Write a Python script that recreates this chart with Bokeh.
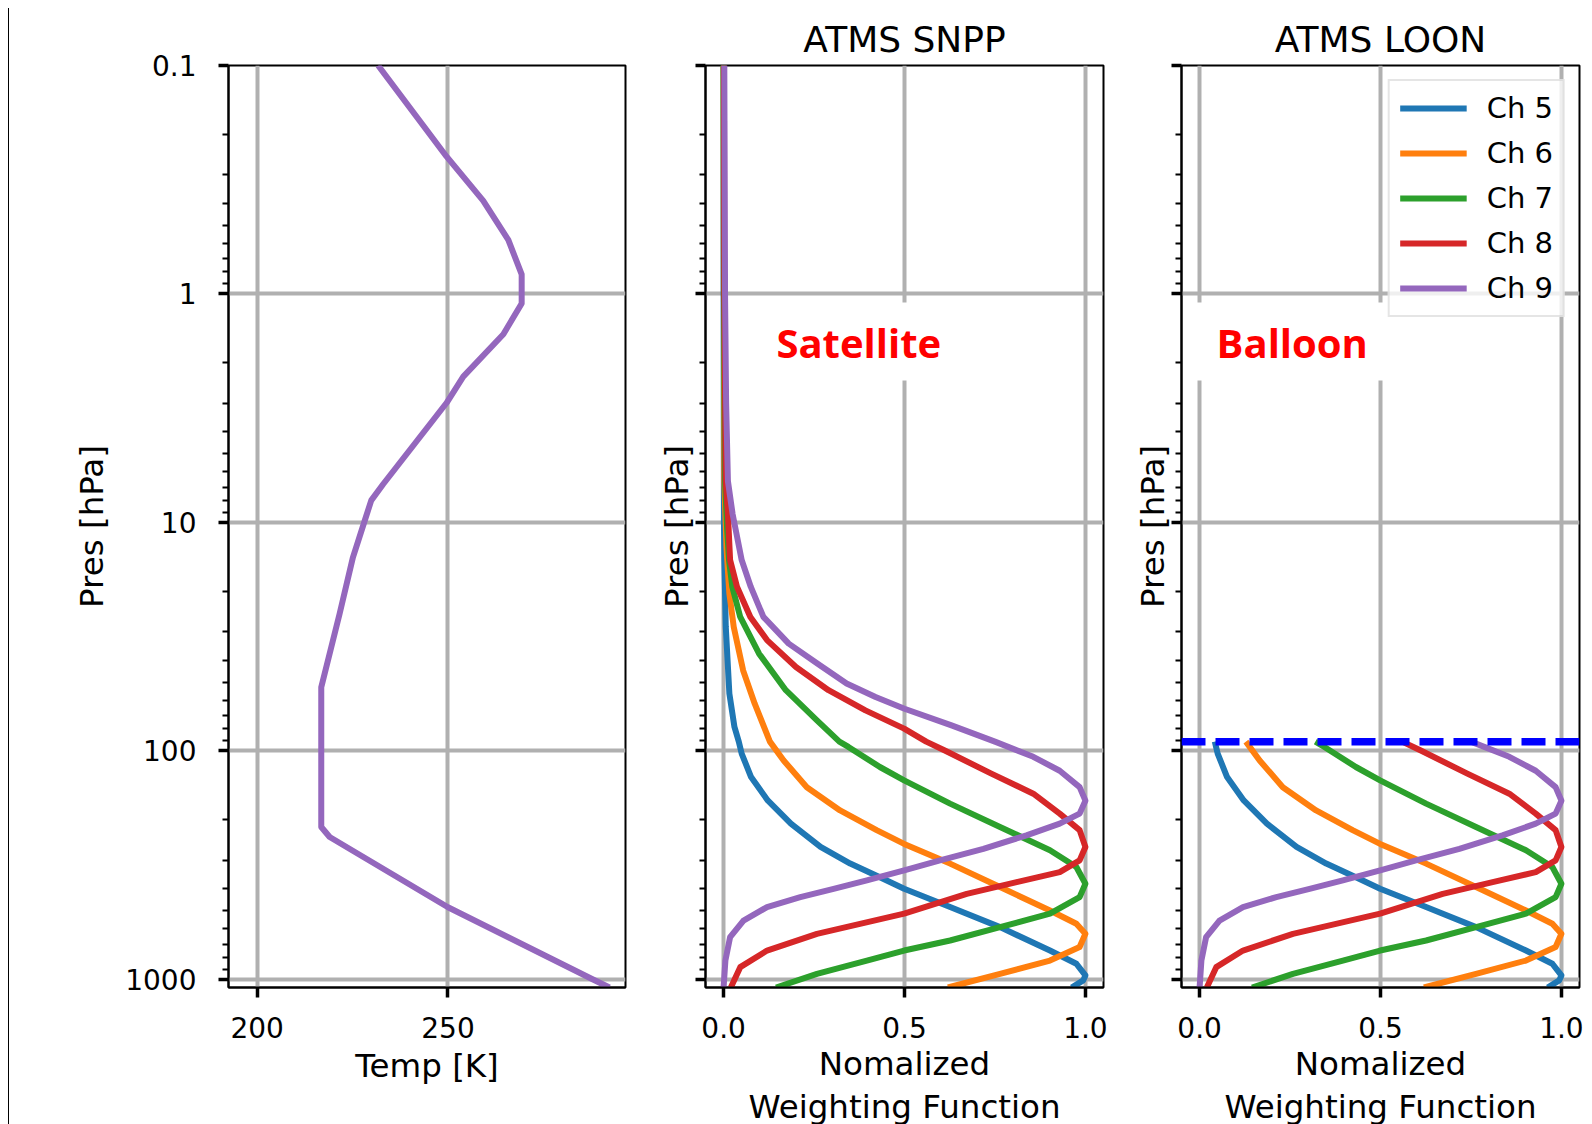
import numpy as np
from bokeh.plotting import figure
from bokeh.models import Range1d, FixedTicker, Legend, LegendItem, Span, Label
from bokeh.layouts import row
from bokeh.embed import file_html
from bokeh.resources import INLINE

# ---------------- data ----------------
temp_p = [0.1, 0.25, 0.39, 0.58, 0.82, 1.1, 1.5, 2.3, 3.0, 6.8, 8.0, 9.8, 14.2,
          25.1, 52.6, 215, 238, 483, 1000, 1084]
temp_T = [231.7, 249.6, 259.2, 265.8, 269.3, 269.3, 264.5, 254.0, 249.6, 233.0,
          229.9, 228.2, 225.1, 221.6, 216.8, 216.8, 219.0, 250.0, 288.0, 292.3]

ch5_p = [0.1, 1, 10, 14.6, 28.6, 56.1, 78.5, 91, 102.7, 130, 164.5, 208, 263, 311,
         357, 401, 482, 590, 747, 853, 960, 1009, 1084]
ch5_w = [0.0, 0.0, 0.001, 0.002, 0.006, 0.016, 0.030, 0.042, 0.050, 0.076, 0.122,
         0.186, 0.268, 0.350, 0.432, 0.499, 0.626, 0.764, 0.902, 0.975, 1.0, 0.994, 0.962]

ch6_p = [0.1, 1, 6.6, 12.9, 20.5, 28.6, 44.4, 62.1, 91, 110, 144, 182, 222, 255, 311,
         394, 499, 570, 631, 721, 826, 945, 1084]
ch6_w = [0.0, 0.001, 0.002, 0.008, 0.016, 0.028, 0.054, 0.086, 0.128, 0.166, 0.230,
         0.322, 0.423, 0.499, 0.626, 0.764, 0.902, 0.975, 1.0, 0.984, 0.902, 0.764, 0.620]

ch7_p = [0.1, 1, 6.6, 10.9, 14.6, 19.1, 25.9, 37.5, 54.2, 73.4, 91, 96, 117.5, 134.4,
         170, 215, 272, 322, 381, 436, 515, 590, 675, 747, 826, 945, 1084]
ch7_w = [0.0, 0.001, 0.004, 0.010, 0.015, 0.024, 0.046, 0.098, 0.172, 0.258, 0.320,
         0.345, 0.432, 0.499, 0.626, 0.764, 0.902, 0.975, 1.0, 0.984, 0.902, 0.764,
         0.626, 0.499, 0.396, 0.258, 0.145]

ch8_p = [0.1, 1, 6.6, 9.2, 14.6, 19.1, 25.9, 32.7, 42.9, 54.2, 66.4, 79.8, 91, 99.3,
         125.6, 153.8, 188, 222, 263, 301, 339, 375, 422, 515, 631, 747, 883, 1084]
ch8_w = [0.001, 0.002, 0.006, 0.012, 0.018, 0.037, 0.074, 0.120, 0.200, 0.290, 0.392,
         0.499, 0.560, 0.610, 0.740, 0.856, 0.929, 0.984, 1.0, 0.984, 0.929, 0.810,
         0.672, 0.499, 0.258, 0.120, 0.046, 0.020]

ch9_p = [0.1, 1, 3, 6.6, 9.2, 14.6, 19.1, 25.9, 33.9, 41.5, 50.7, 58, 65.3, 77.3, 91,
         106, 122, 144, 165, 188, 208, 234, 268, 301, 333, 368, 401, 436, 482, 552,
         653, 826, 1084]
ch9_w = [0.002, 0.004, 0.007, 0.012, 0.025, 0.050, 0.075, 0.110, 0.180, 0.260, 0.340,
         0.420, 0.500, 0.630, 0.750, 0.856, 0.929, 0.984, 1.0, 0.984, 0.929, 0.837,
         0.718, 0.598, 0.499, 0.396, 0.304, 0.212, 0.120, 0.055, 0.018, 0.005, 0.0]

channel_names = ["Ch 5", "Ch 6", "Ch 7", "Ch 8", "Ch 9"]
channel_p = [ch5_p, ch6_p, ch7_p, ch8_p, ch9_p]
channel_w = [ch5_w, ch6_w, ch7_w, ch8_w, ch9_w]
channel_colors = ["#1f77b4", "#ff7f0e", "#2ca02c", "#d62728", "#9467bd"]

balloon_p = 91

p_major = [0.1, 1, 10, 100, 1000]
p_major_labels = ["0.1", "1", "10", "100", "1000"]
p_minor = [m * d for d in (0.1, 1, 10, 100) for m in range(2, 10)]
temp_ticks = [200, 250]
temp_tick_labels = ["200", "250"]
wf_ticks = [0, 0.5, 1]
wf_tick_labels = ["0.0", "0.5", "1.0"]

# ---------------- styling ----------------
FONT = "DejaVu Sans"
GRID = "#b0b0b0"
P_BOTTOM, P_TOP = 1084, 0.1
FRAME_H = 922
TOP_B, BOT_B = 57, 135
LW = 6          # curve width
GW = 4          # grid width


def make_fig(x_range, frame_w, left, right, title=None):
    p = figure(x_range=x_range, y_range=Range1d(P_BOTTOM, P_TOP), y_axis_type="log",
               frame_width=frame_w, frame_height=FRAME_H,
               min_border_left=left, min_border_right=right,
               min_border_top=TOP_B, min_border_bottom=BOT_B,
               toolbar_location=None, output_backend="svg", title=title)
    p.background_fill_color = "white"
    p.border_fill_color = "white"
    p.outline_line_color = "black"
    p.outline_line_width = 2
    p.outline_line_alpha = 1.0
    if title is not None:
        p.title.text_font = FONT
        p.title.text_font_size = "36px"
        p.title.text_font_style = "normal"
        p.title.text_color = "black"
        p.title.align = "center"
        p.title.standoff = 11
    for ax in (p.xaxis[0], p.yaxis[0]):
        ax.axis_line_color = "black"
        ax.axis_line_width = 2
        ax.major_tick_line_color = "black"
        ax.major_tick_line_width = 3.5
        ax.major_tick_out = 10
        ax.major_tick_in = 0
        ax.minor_tick_line_color = "black"
        ax.minor_tick_line_width = 2
        ax.minor_tick_out = 6
        ax.minor_tick_in = 0
        ax.major_label_text_font = FONT
        ax.major_label_text_font_size = "28px"
        ax.major_label_text_color = "black"
        ax.axis_label_text_font = FONT
        ax.axis_label_text_font_size = "32.5px"
        ax.axis_label_text_font_style = "normal"
        ax.axis_label_text_color = "black"
        ax.axis_label_text_line_height = 1.15
    p.yaxis.ticker = FixedTicker(ticks=p_major, minor_ticks=p_minor)
    p.yaxis.axis_label = "Pres [hPa]"
    p.xaxis.major_label_standoff = 19
    p.xaxis.axis_label_standoff = 4
    for g in (p.xgrid[0], p.ygrid[0]):
        g.grid_line_color = GRID
        g.grid_line_width = GW
    return p


# ---- panel 1: temperature ----
p1 = make_fig(Range1d(192.5, 296.5), 397, 219, 25)
p1.xaxis.ticker = FixedTicker(ticks=temp_ticks, minor_ticks=[])
p1.xaxis.major_label_overrides = dict(zip(temp_ticks, temp_tick_labels))
p1.yaxis.major_label_overrides = dict(zip(p_major, p_major_labels))
p1.yaxis.major_label_standoff = 22
p1.yaxis.axis_label_standoff = 11
p1.xaxis.axis_label = "Temp [K]"
p1.xaxis.axis_label_standoff = 6
p1.line(temp_T, temp_p, line_color="#9467bd", line_width=LW, line_join="round")


def wf_panel(title, left, right):
    p = make_fig(Range1d(-0.05, 1.05), 398, left, right, title=title)
    p.xaxis.ticker = FixedTicker(ticks=wf_ticks, minor_ticks=[])
    p.xaxis.major_label_overrides = dict(zip(wf_ticks, wf_tick_labels))
    p.yaxis.major_label_overrides = {t: "" for t in p_major}
    p.yaxis.major_label_standoff = 0
    p.yaxis.axis_label_standoff = 0
    p.xaxis.axis_label = "Nomalized\nWeighting Function"
    return p


p2 = wf_panel("ATMS SNPP", 55, 25)
p3 = wf_panel("ATMS LOON", 53, 5)

# white label boxes (cover grid lines, beneath curves)
p2.quad(left=[0.06], right=[0.655], top=[1.09], bottom=[2.39],
        fill_color="white", line_color=None)
p3.quad(left=[-0.04], right=[0.555], top=[1.09], bottom=[2.39],
        fill_color="white", line_color=None)

renderers3 = []
for name, pp, ww, col in zip(channel_names, channel_p, channel_w, channel_colors):
    pp_a = np.array(pp, dtype=float)
    ww_a = np.array(ww, dtype=float)
    p2.line(ww_a, pp_a, line_color=col, line_width=LW, line_join="round")
    m = pp_a >= balloon_p
    r = p3.line(ww_a[m], pp_a[m], line_color=col, line_width=LW, line_join="round")
    renderers3.append((name, r))

p2.add_layout(Label(x=0.146, y=1.63, text="Satellite", text_font="Open Sans",
                    text_font_style="bold", text_font_size="40px", text_color="#ff0000",
                    text_baseline="alphabetic"))
p3.add_layout(Label(x=0.047, y=1.63, text="Balloon", text_font="Open Sans",
                    text_font_style="bold", text_font_size="40px", text_color="#ff0000",
                    text_baseline="alphabetic"))

p3.add_layout(Span(location=balloon_p, dimension="width", line_color="#0000ff",
                   line_width=7.5, line_dash="24 10"))

legend = Legend(items=[LegendItem(label=n, renderers=[r]) for n, r in renderers3],
                location="top_right", margin=14, padding=10, spacing=11,
                glyph_width=67, glyph_height=34, label_height=34, label_standoff=20,
                label_text_font=FONT, label_text_font_size="29px",
                label_text_color="black",
                border_line_color="#cccccc", border_line_width=2,
                background_fill_color="white", background_fill_alpha=0.8)
p3.add_layout(legend)

layout = row(p1, p2, p3, styles={"border-left": "1.5px solid black",
                                 "margin-left": "8px", "margin-top": "8px"})

with open("out.html", "w") as f:
    f.write(file_html(layout, INLINE))
